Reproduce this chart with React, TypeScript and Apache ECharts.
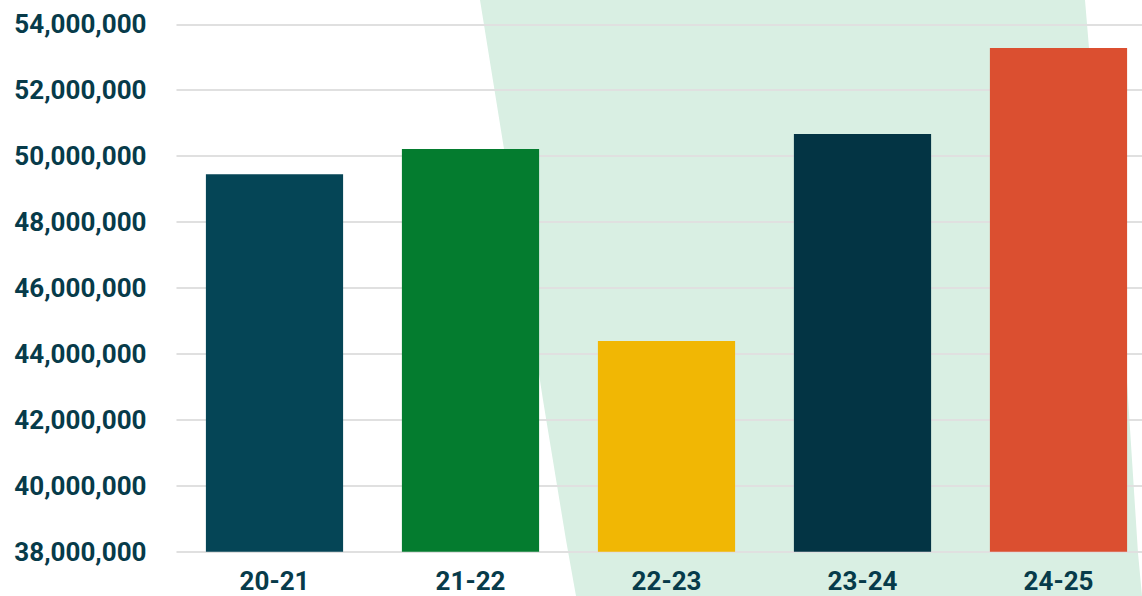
import React, { useEffect, useRef } from "react";
import * as echarts from "echarts";

const categories = ["20-21", "21-22", "22-23", "23-24", "24-25"];
const values = [49450000, 50220000, 44390000, 50670000, 53280000];
const barColors = ["#054556", "#047c2f", "#f1b704", "#033444", "#db4f30"];
const yMin = 38000000;
const yMax = 54000000;
const yInterval = 2000000;

export default function App() {
  const ref = useRef<HTMLDivElement>(null);
  useEffect(() => {
    if (!ref.current) return;
    const chart = echarts.init(ref.current, undefined, { renderer: "svg" });
    chart.setOption({
      animation: false,
      backgroundColor: "#ffffff",
      graphic: [
        {
          type: "polygon",
          z: -10,
          silent: true,
          shape: {
            points: [
              [480, 0],
              [1085, 0],
              [1089, 48],
              [1127, 382],
              [1138, 553],
              [1142, 596],
              [576, 596],
              [566, 540],
              [543, 400],
              [504, 149],
            ],
          },
          style: { fill: "#d9efe3" },
        },
      ],
      grid: { left: 176.5, width: 980, top: 24.3, bottom: 44.3 },
      xAxis: {
        type: "category",
        data: categories,
        axisLine: { show: false },
        axisTick: { show: false },
        axisLabel: {
          color: "#073b4a",
          fontFamily: "Roboto",
          fontWeight: "bold",
          fontSize: 26,
          margin: 16,
        },
      },
      yAxis: {
        type: "value",
        min: yMin,
        max: yMax,
        interval: yInterval,
        axisLine: { show: false },
        axisTick: { show: false },
        splitLine: { lineStyle: { color: "#e0e0e0", width: 2 } },
        axisLabel: {
          color: "#073b4a",
          fontFamily: "Roboto",
          fontWeight: "bold",
          fontSize: 26,
          margin: 30,
          formatter: (v: number) => v.toLocaleString("en-US"),
        },
      },
      series: [
        {
          type: "bar",
          barWidth: "70%",
          data: values.map((v, i) => ({ value: v, itemStyle: { color: barColors[i] } })),
        },
      ],
    });
    return () => chart.dispose();
  }, []);
  return (
    <div
      style={{
        position: "fixed",
        left: 0,
        top: 0,
        width: 1142,
        height: 596,
        overflow: "hidden",
        background: "#fff",
      }}
    >
      <div ref={ref} style={{ width: 1160, height: 596 }} />
    </div>
  );
}
